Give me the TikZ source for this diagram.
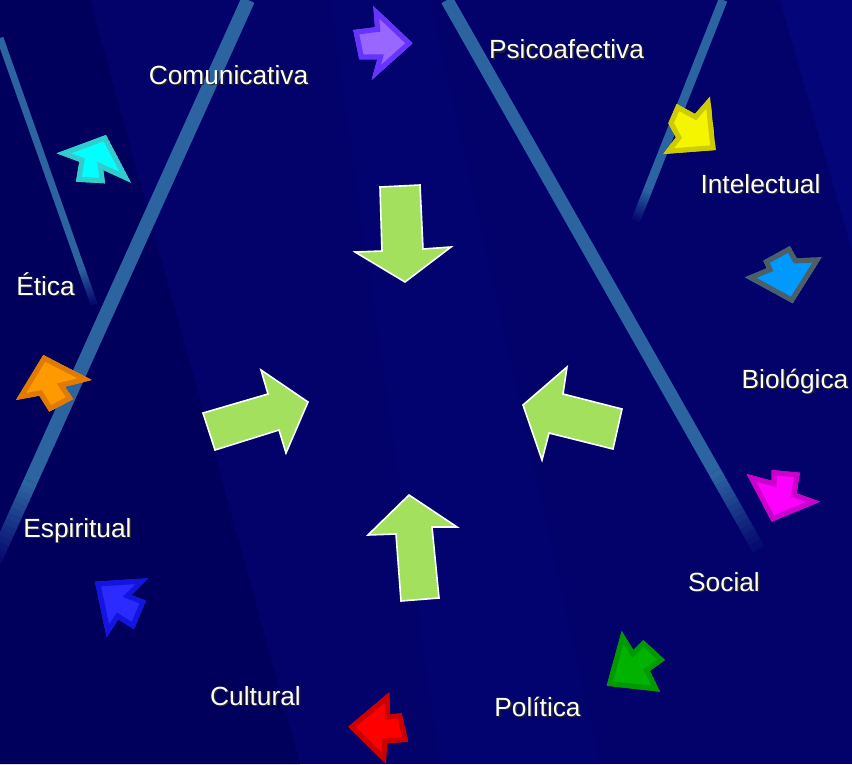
\documentclass[tikz,border=0pt]{standalone}
\usepackage{fontspec}
\setmainfont{Liberation Sans}
\usetikzlibrary{calc}
\definecolor{bg}{HTML}{02026A}
\definecolor{bgdark}{HTML}{00005C}
\definecolor{bglight}{HTML}{05057A}
\definecolor{streak}{HTML}{2C64A2}
\definecolor{lime}{HTML}{A2E05E}
\definecolor{purpleO}{HTML}{6633FF}\definecolor{purpleF}{HTML}{9966FF}
\definecolor{cyanO}{HTML}{33CCCC}\definecolor{cyanF}{HTML}{00FFFF}
\definecolor{yellowO}{HTML}{CCCC00}\definecolor{yellowF}{HTML}{F5F500}
\definecolor{slateO}{HTML}{4D5F66}\definecolor{skyF}{HTML}{0099FF}
\definecolor{magentaO}{HTML}{CC00CC}\definecolor{magentaF}{HTML}{FF00FF}
\definecolor{orangeO}{HTML}{E07A00}\definecolor{orangeF}{HTML}{FF9900}
\definecolor{blueO}{HTML}{1414E0}\definecolor{blueF}{HTML}{2B2BFF}
\definecolor{redO}{HTML}{CC0000}\definecolor{redF}{HTML}{FF0000}
\definecolor{greenO}{HTML}{009900}\definecolor{greenF}{HTML}{00B300}
\newcommand\colarrow[3]{%
  \begin{scope}
    \clip #3 -- cycle;
    \filldraw[fill=#2, draw=#1, line width=10pt, line join=miter] #3 -- cycle;
  \end{scope}}
% streak: solid part, then a fade into the background in small steps
\newcommand\streakline[5]{%
  \draw[streak, line width=#5] (#1,#2) -- ($(#1,#2)!0.86!(#3,#4)$);
  \foreach \k in {0,...,13}{%
    \pgfmathsetmacro\a{0.86+0.01*\k}%
    \pgfmathsetmacro\b{0.86+0.01*(\k+1)+0.002}%
    \pgfmathsetmacro\p{100-7*\k}%
    \draw[streak!\p!bg, line width=#5] ($(#1,#2)!\a!(#3,#4)$) -- ($(#1,#2)!\b!(#3,#4)$);}}
\newcommand\shtext[1]{\makebox[0pt][l]{\hspace{1.5pt}\raisebox{-1.5pt}{\color{black!85}#1}}#1}
\begin{document}
\begin{tikzpicture}[x=1pt,y=-1pt,
  lbl/.style={text=white, font=\fontsize{26.3}{31}\selectfont, anchor=base, inner sep=0pt},
  bigarrow/.style={fill=lime, draw=white, line width=1.6pt, line join=miter}]
\useasboundingbox (0,0) rectangle (852,764);
\fill[bg] (0,0) rectangle (852,764);
% subtle bands
\fill[bgdark] (0,0) -- (90,0) -- (300,764) -- (0,764) -- cycle;
\fill[bglight] (780,0) -- (852,0) -- (852,250) -- cycle;
\fill[bglight, opacity=0.35] (330,0) -- (430,0) -- (600,764) -- (440,764) -- cycle;
% light streaks
\streakline{248}{0}{-5}{560}{14pt}
\streakline{447}{0}{758}{548}{13pt}
\streakline{0}{38}{94}{304}{7pt}
\streakline{723}{0}{636}{220}{9pt}

% big green arrows
\filldraw[bigarrow] (380,187) -- (420,185) -- (423,249) -- (451,247) -- (405,282) -- (355,252) -- (382,251) -- cycle;
\filldraw[bigarrow] (215,450) -- (203,413) -- (268,394) -- (261,370) -- (308,402) -- (286,453) -- (279,430) -- cycle;
\filldraw[bigarrow] (409,495) -- (457,527) -- (432,527) -- (439,598) -- (401,601) -- (396,534) -- (368,535) -- cycle;
\filldraw[bigarrow] (523,405) -- (567,367) -- (563,394) -- (622,409) -- (613,449) -- (549,433) -- (542,460) -- cycle;

% small coloured arrows
\colarrow{purpleO}{purpleF}{(353.3,30) -- (375,27.3) -- (373.3,6) -- (412.7,43.3) -- (371.7,80) -- (377.3,59.3) -- (359.3,59.3)}
\colarrow{cyanO}{cyanF}{(56.7,153.3) -- (106,135) -- (131,182.7) -- (103.3,170) -- (105,183.3) -- (76,181.7) -- (79.3,161.7)}
\colarrow{yellowO}{yellowF}{(676.7,104) -- (695,114) -- (710,96.7) -- (715.7,150) -- (663.3,154) -- (676,137.3) -- (668.3,123.3)}
\colarrow{slateO}{skyF}{(763.3,260.7) -- (790,246) -- (796.7,258.3) -- (821.7,257.3) -- (792.7,303.3) -- (745,277.3) -- (766.7,268.3)}
\colarrow{magentaO}{magentaF}{(746.7,474) -- (771.7,480.7) -- (771.7,470) -- (800,472.7) -- (796.7,493.3) -- (820,501.7) -- (771.7,521.7)}
\colarrow{orangeO}{orangeF}{(16,400) -- (43.3,355) -- (91.7,380) -- (65,386.7) -- (73.3,399) -- (49.3,411.7) -- (39.3,395.7)}
\colarrow{blueO}{blueF}{(95,581.7) -- (148.3,578.3) -- (131.7,595) -- (146,600.7) -- (134,629.3) -- (118.3,619.3) -- (106.7,637.3)}
\colarrow{redO}{redF}{(348.3,726.7) -- (389.3,692.3) -- (390,714.3) -- (401.7,713.3) -- (408.3,741.7) -- (387.3,743.3) -- (386,763.7)}
\colarrow{greenO}{greenF}{(621.7,631) -- (633.3,650) -- (643.3,640) -- (665,660) -- (650,671) -- (660,691.7) -- (606.7,685.7)}

% labels
\node[lbl] (com) at (228.5,84) {\shtext{Comunicativa}};
\node[lbl] (psi) at (566.5,58.5) {\shtext{Psicoafectiva}};
\node[lbl] (int) at (760.5,193) {\shtext{Intelectual}};
\node[lbl] (eti) at (45.5,295) {\shtext{Ética}};
\node[lbl] (bio) at (795,388) {\shtext{Biológica}};
\node[lbl] (esp) at (77.5,537) {\shtext{Espiritual}};
\node[lbl] (soc) at (724,591) {\shtext{Social}};
\node[lbl] (cul) at (255.5,705) {\shtext{Cultural}};
\node[lbl] (pol) at (537.5,716) {\shtext{Política}};
\end{tikzpicture}
\end{document}
